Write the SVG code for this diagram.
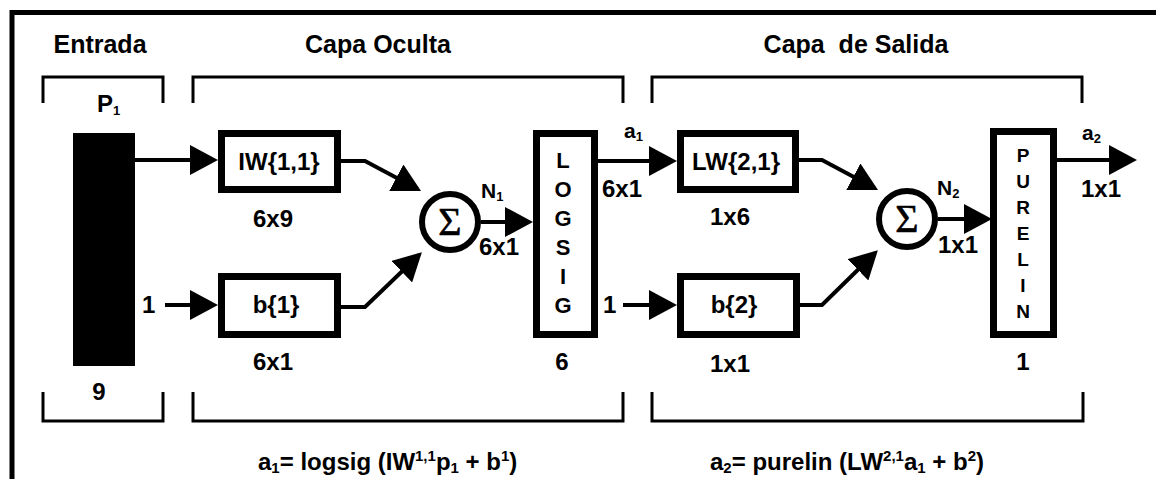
<svg xmlns="http://www.w3.org/2000/svg" width="1158" height="479" viewBox="0 0 1158 479">
<style>
text{font-family:"Liberation Sans",Arial,sans-serif;font-weight:bold;fill:#000}
.h{font-size:25px}
.l{font-size:24px}
.s{font-size:21px}
.v{font-size:24px;text-anchor:middle}
.lg{font-size:22px;text-anchor:middle}
.v2{font-size:19px;text-anchor:middle}
.m{text-anchor:middle}
.f{font-size:24px}
.sg{font-family:"Liberation Serif","DejaVu Serif",serif;font-weight:normal;font-size:40px;text-anchor:middle;stroke:#000;stroke-width:0.6}
.box{fill:#fff;stroke:#000;stroke-width:7}
.br{fill:none;stroke:#000;stroke-width:3}
.fr{fill:none;stroke:#000;stroke-width:5}
.c{fill:none;stroke:#000;stroke-width:4}
</style>
<defs>
<marker id="ah" markerUnits="userSpaceOnUse" viewBox="0 0 28 30" markerWidth="28" markerHeight="30" refX="24" refY="15" orient="auto">
<path d="M0,0 L28,15 L0,30 z" fill="#000"/>
</marker>
</defs>

<g id="frame">
<path class="fr" d="M12,479 V12.5 H1156"/>
</g>

<g id="headers">
<text class="h m" x="100" y="53">Entrada</text>
<text class="h m" x="378" y="53">Capa Oculta</text>
<text class="h m" x="856" y="53" style="white-space:pre">Capa  de Salida</text>
</g>

<g id="brackets">
<path class="br" d="M43,103 V77 H163 V103"/>
<path class="br" d="M193,103 V77 H623 V103"/>
<path class="br" d="M652,103 V77 H1082 V103"/>
<path class="br" d="M43,392 V421 H163 V392"/>
<path class="br" d="M193,392 V421 H623 V392"/>
<path class="br" d="M652,392 V421 H1083 V392"/>
</g>

<g id="input">
<rect x="73" y="133" width="62" height="233" fill="#000"/>
<text class="l" x="97" y="112">P<tspan font-size="13" dy="3">1</tspan></text>
<text class="v" x="99" y="400">9</text>
</g>

<g id="IW11">
<rect class="box" x="221.5" y="133.5" width="116" height="56"/>
<text class="v" x="279" y="170">IW{1,1}</text>
<text class="v" x="273" y="227">6x9</text>
</g>

<g id="b1">
<rect class="box" x="221.5" y="276.5" width="116" height="58"/>
<text class="v" x="276" y="313">b{1}</text>
<text class="v" x="273" y="370">6x1</text>
<text class="l" x="142" y="313">1</text>
</g>

<g id="sum1">
<circle cx="450" cy="222" r="28" fill="#fff" stroke="#000" stroke-width="6"/>
<text class="sg" x="450" y="235">Σ</text>
<text class="s" x="481" y="198">N<tspan font-size="13" dy="3">1</tspan></text>
<text class="l" x="479" y="255">6x1</text>
</g>

<g id="logsig">
<rect x="536.5" y="133.5" width="58" height="201" fill="#fff" stroke="#000" stroke-width="7"/>
<text class="lg" x="563" y="168">L</text>
<text class="lg" x="563" y="197">O</text>
<text class="lg" x="563" y="226">G</text>
<text class="lg" x="563" y="255">S</text>
<text class="lg" x="563" y="284">I</text>
<text class="lg" x="563" y="313">G</text>
<text class="v" x="562" y="370">6</text>
<text class="s" x="624" y="138">a<tspan font-size="13" dy="3">1</tspan></text>
<text class="l" x="602" y="197">6x1</text>
</g>

<g id="LW21">
<rect class="box" x="680.5" y="133.5" width="115" height="56"/>
<text class="v" x="736" y="170">LW{2,1}</text>
<text class="v" x="730" y="225">1x6</text>
</g>

<g id="b2">
<rect class="box" x="680.5" y="276.5" width="116" height="58"/>
<text class="v" x="734" y="313">b{2}</text>
<text class="v" x="730" y="372">1x1</text>
<text class="l" x="603" y="313">1</text>
</g>

<g id="sum2">
<circle cx="907" cy="219" r="28" fill="#fff" stroke="#000" stroke-width="6"/>
<text class="sg" x="907" y="232">Σ</text>
<text class="s" x="937" y="195">N<tspan font-size="13" dy="3">2</tspan></text>
<text class="l" x="938" y="253">1x1</text>
</g>

<g id="purelin">
<rect x="993.5" y="131.5" width="60" height="203" fill="#fff" stroke="#000" stroke-width="7"/>
<text class="v2" x="1023" y="162">P</text>
<text class="v2" x="1023" y="188">U</text>
<text class="v2" x="1023" y="214">R</text>
<text class="v2" x="1023" y="240">E</text>
<text class="v2" x="1023" y="266">L</text>
<text class="v2" x="1023" y="292">I</text>
<text class="v2" x="1023" y="318">N</text>
<text class="v" x="1023" y="370">1</text>
<text class="s" x="1082" y="140">a<tspan font-size="13" dy="3">2</tspan></text>
<text class="l" x="1081" y="197">1x1</text>
</g>

<g id="formulas">
<text class="f" x="258" y="470">a<tspan font-size="15" dy="3">1</tspan><tspan dy="-3">= logsig (IW</tspan><tspan font-size="15" dy="-9">1,1</tspan><tspan dy="9">p</tspan><tspan font-size="15" dy="3">1</tspan><tspan dy="-3"> + b</tspan><tspan font-size="15" dy="-9">1</tspan><tspan dy="9">)</tspan></text>
<text class="f" x="710" y="470">a<tspan font-size="15" dy="3">2</tspan><tspan dy="-3">= purelin (LW</tspan><tspan font-size="15" dy="-9">2,1</tspan><tspan dy="9">a</tspan><tspan font-size="15" dy="3">1</tspan><tspan dy="-3"> + b</tspan><tspan font-size="15" dy="-9">2</tspan><tspan dy="9">)</tspan></text>
</g>

<g id="connectors">
<line class="c" x1="135" y1="160" x2="214" y2="160" marker-end="url(#ah)"/>
<line class="c" x1="165" y1="305" x2="214" y2="305" marker-end="url(#ah)"/>
<polyline class="c" points="341,161 365,161 417.5,189" marker-end="url(#ah)"/>
<polyline class="c" points="341,307 365,307 419,255" marker-end="url(#ah)"/>
<line class="c" x1="481" y1="222" x2="529" y2="222" marker-end="url(#ah)"/>
<line class="c" x1="598" y1="161" x2="673" y2="161" marker-end="url(#ah)"/>
<line class="c" x1="623" y1="305" x2="673" y2="305" marker-end="url(#ah)"/>
<polyline class="c" points="799,160 822,160 874.5,188" marker-end="url(#ah)"/>
<polyline class="c" points="800,305 822,305 875,253" marker-end="url(#ah)"/>
<line class="c" x1="938" y1="219" x2="988" y2="219" marker-end="url(#ah)"/>
<line class="c" x1="1057" y1="160" x2="1133" y2="160" marker-end="url(#ah)"/>
</g>
</svg>
